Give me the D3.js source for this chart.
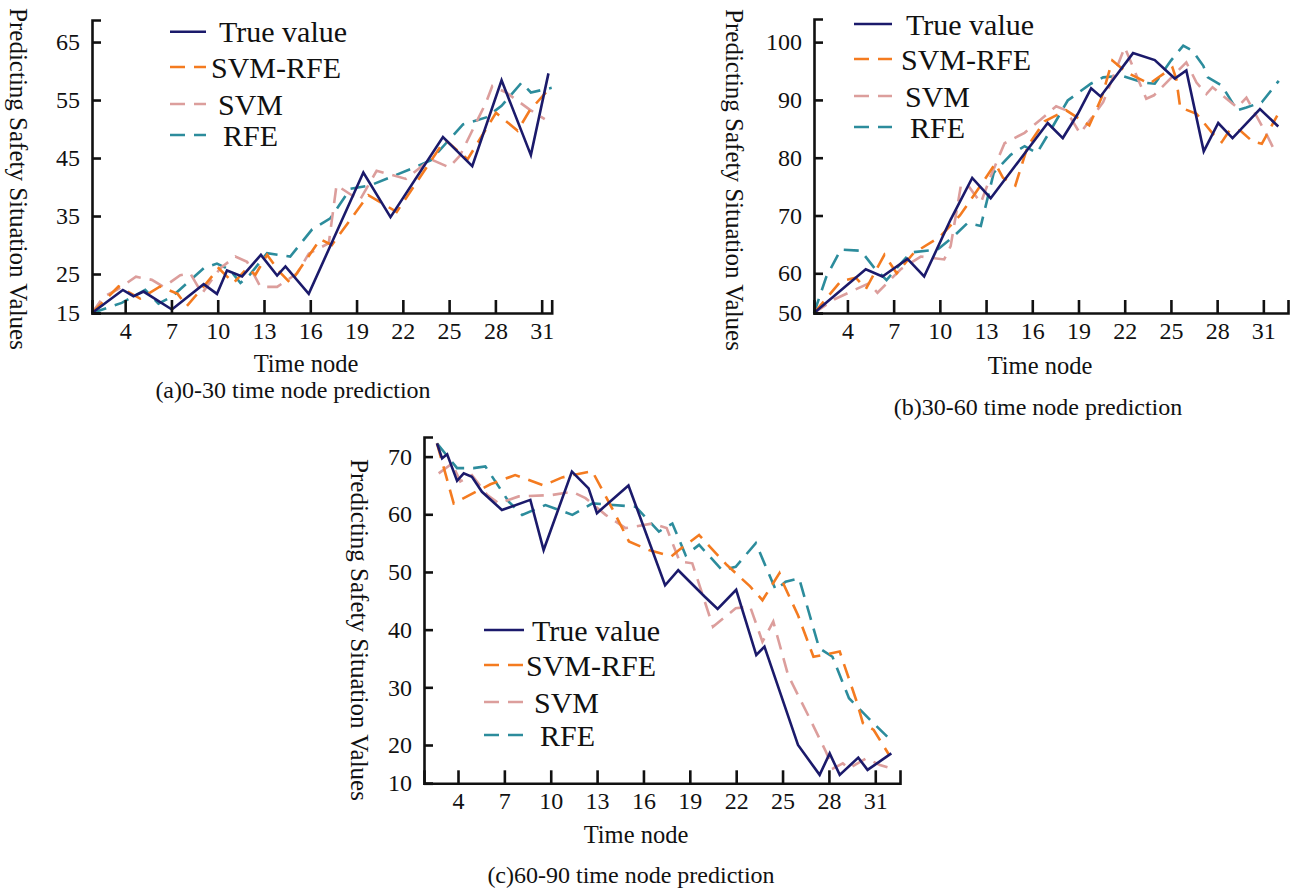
<!DOCTYPE html>
<html>
<head>
<meta charset="utf-8">
<script src="https://d3js.org/d3.v7.min.js"></script>
<style>
  body { margin: 0; background: #fff; }
  svg text { font-family: "Liberation Serif", "Times New Roman", serif; fill: #111; }
</style>
</head>
<body>
<div id="chart"></div>
<script>
// series names and styles
const seriesNames = ["True value", "SVM-RFE", "SVM", "RFE"];
const seriesColors = ["#1b1a6b", "#f47b20", "#dc9e9c", "#2c8c9c"];
const seriesDash = [null, "15,9", "15,9", "15,9"];

const xTicks = [4, 7, 10, 13, 16, 19, 22, 25, 28, 31];

// (a) 0-30 time node prediction : [time node, value]
const trueA = [[1.85,15],[3.85,20.9],[4.54,19.3],[5.19,20.5],[7.03,15.9],[9.09,22.4],[9.95,19.9],[10.6,25.6],[11.58,24.4],[12.8,28.3],[13.85,24.6],[14.39,26.3],[15.9,19.9],[19.44,42.5],[21.2,34.8],[24.6,48.6],[26.5,43.6],[28.4,58.4],[30.3,45.5],[31.44,59.6]];
const svmRfeA = [[1.85,15],[3.57,21.8],[4.97,18.7],[6.27,21.8],[7.4,19.9],[8.0,16.8],[9.09,21.8],[10.06,26],[11.03,22.7],[11.9,26],[12.44,24.8],[13.2,28.3],[13.96,25.5],[14.7,22.7],[15.15,25.2],[16.65,31],[17.4,30],[19.76,38.6],[21.6,35.7],[24.4,46.8],[24.8,48],[26.2,44.8],[28.04,52.8],[29.44,49.7],[30.2,53.1],[31.6,57.3]];
const svmA = [[1.85,15],[2.6,19.2],[3.46,20.9],[4.7,24.3],[5.73,23.5],[6.5,21.7],[7.57,24.7],[8.22,25.1],[8.98,20],[9.52,23],[10.17,26],[11.14,28],[11.9,27.1],[12.77,21.7],[13.85,21.7],[15.15,25.1],[15.9,28.5],[17.2,30.3],[17.7,40.3],[19.2,37.7],[20.3,42.8],[22.2,41.4],[23.8,44.8],[25,43.4],[25.7,45.4],[27.4,54.6],[27.8,57.4],[28.7,56.3],[30.2,53.4],[31.2,51.7]];
const rfeA = [[1.85,15],[3.78,17.6],[5.3,20.9],[6.16,17.4],[7.03,19.2],[9.09,26],[9.95,26.8],[10.8,25.7],[11.47,22.7],[12.1,24.9],[13.2,28.6],[14.7,28],[16.12,32.7],[17.3,34.6],[18.6,39.7],[19.9,40.3],[22.5,43.1],[23.8,44.6],[25.9,50.8],[27.4,52],[28.4,54],[29.7,58],[30.3,56.3],[31.65,57.1]];

// (b) 30-60 time node prediction
const trueB = [[1.83,50],[5.19,60.7],[6.27,59.2],[7.9,62.5],[8.98,59.2],[10.7,69.3],[12.1,76.5],[13.3,73],[17.0,86],[17.98,83.4],[18.96,87.6],[19.82,92],[20.43,90.6],[22.54,98.1],[23.95,96.9],[25.25,93.7],[26.0,95.1],[27.13,81.1],[28.07,86],[29.0,83.4],[30.78,88.4],[31.97,85.4]];
const svmRfeB = [[1.83,50],[3.57,58],[4.54,58.9],[5.2,56.1],[6.4,63.2],[7.2,60],[8.3,63.5],[10,66.3],[11.3,70],[12.6,75],[13.6,79],[14.1,76.5],[14.9,75.2],[15.7,82],[16.8,86.3],[18.2,88.2],[19.7,85.6],[20.5,90.4],[21.2,96.8],[22.1,94.8],[23.6,92.8],[25.1,95.6],[25.35,93.6],[25.6,88.7],[26.66,87.6],[27.74,84.1],[28.3,82.7],[28.8,84.7],[29.5,84.7],[30.3,82.8],[30.9,82.4],[31.9,87.3]];
const svmB = [[1.83,50],[3.13,53.4],[5.4,57.5],[5.95,55.1],[7.46,60.7],[8.76,62.9],[10.28,62.4],[10.7,64.7],[11.36,75.1],[11.8,75.3],[12.66,72.2],[13.3,76.8],[14.2,82.5],[15.5,84.3],[16.55,86.6],[17.55,88.9],[18.2,88.2],[19.1,84.2],[20.6,89.6],[22.0,99.1],[23.4,90.2],[23.9,90.8],[26.0,96.5],[26.66,93],[27.3,91],[27.7,92.2],[29.3,88.7],[29.9,90.4],[31.2,84.1],[31.75,81.1]];
const rfeB = [[1.83,50],[2.63,59.1],[3.57,64.1],[4.87,63.9],[5.73,61],[6.54,58.3],[7.3,61.2],[8.1,63.6],[9.84,64.1],[10.9,66.4],[11.8,68.7],[12.66,68.2],[13.5,77.4],[14.6,80.5],[15.5,82],[16.3,80.8],[17.2,84.8],[18.3,89.9],[19.8,92.8],[20.6,93.9],[21.8,94.2],[23.2,93],[23.95,92.8],[25.0,96.8],[25.8,99.4],[26.4,98.5],[27.1,95.9],[27.4,93.9],[28.3,92.5],[29.3,88.2],[29.9,88.7],[30.9,89.6],[32.0,93.3]];

// (c) 60-90 time node prediction
const trueC = [[2.64,72.3],[2.97,69.7],[3.3,70.4],[3.94,65.8],[4.37,67.1],[4.9,66.5],[5.55,63.9],[6.84,60.75],[8.68,62.5],[9.54,53.8],[11.37,67.4],[12.45,64.5],[12.99,60.2],[15.03,65],[17.4,47.7],[18.25,50.3],[19.97,45.7],[20.8,43.6],[22.0,46.9],[23.3,35.6],[23.83,37.05],[26.0,20],[27.4,12.2],[28.05,17.8],[28.7,12.2],[29.9,16.7],[30.5,13.5],[32.04,17.8]];
const svmRfeC = [[2.64,72.3],[3.72,61.9],[6.1,65.2],[7.7,66.8],[9.55,65],[10.74,66.4],[12.68,67.5],[13.98,61],[15.06,55.3],[16.35,53.8],[17.8,52.7],[18.3,53.8],[19.6,56.4],[21.4,51.2],[22.9,47.5],[23.7,45.1],[24.8,49.8],[25.1,47.7],[26.0,42.5],[27.0,35.3],[28.7,36.2],[29.8,27.5],[30.2,23.8],[30.9,22.6],[31.9,17.4]];
const svmC = [[2.75,67.1],[3.61,68.8],[4.15,65.7],[4.9,66.8],[5.88,63.4],[6.64,61.9],[7.93,63.1],[10.1,63.35],[11.4,63.9],[12.25,62.8],[13.55,59.9],[14.84,57.6],[16.57,58.4],[17.5,57.6],[18.35,51.8],[19.16,51.5],[20.5,40.5],[21.97,43.7],[22.9,44],[23.7,37.9],[24.4,41.4],[25.36,32.1],[26.76,24.6],[27.8,18.3],[28.27,13.9],[28.9,15.2],[29.3,13.9],[30.4,16.5],[31.3,14.8],[32.0,13.9]];
const rfeC = [[2.64,72.3],[3.94,68],[5.0,68],[5.77,68.3],[7.28,62.2],[8.15,59.9],[9.66,61.6],[11.4,59.9],[12.7,61.9],[15.5,61.3],[17.0,57],[17.87,58.4],[18.73,52.9],[19.6,54.7],[21.1,50.3],[21.97,50.9],[23.27,55],[24.56,46.9],[25.2,48.3],[26.07,48.9],[27.37,36.8],[28.23,35.3],[29.3,28.1],[30.8,24],[32.1,20.6]];

const yTicksA = [15, 25, 35, 45, 55, 65];
const yTicksB = [50, 60, 70, 80, 90, 100];
const yTicksC = [10, 20, 30, 40, 50, 60, 70];

const panels = [
  {
    series: [trueA, svmRfeA, svmA, rfeA], yTicks: yTicksA,
    xDomain: [1.85, 31.65], xRange: [92, 551.7],
    yDomain: [15, 25, 68.8], yRange: [313, 274, 20],
    yTitle: [19, 179], xTitle: [306, 363],
    caption: "(a)0-30 time node prediction", capPos: [293, 390],
    legX: [170, 206], legY: [31.7, 67, 104, 135], legText: [219, 211, 218, 223]
  },
  {
    series: [trueB, svmRfeB, svmB, rfeB], yTicks: yTicksB,
    xDomain: [1.83, 32.6], xRange: [814, 1288],
    yDomain: [50, 60, 104], yRange: [313, 273.3, 19],
    yTitle: [735, 180], xTitle: [1040, 365],
    caption: "(b)30-60 time node prediction", capPos: [1038, 407],
    legX: [854, 892], legY: [24, 59, 96, 127], legText: [906, 901, 905, 910]
  },
  {
    series: [trueC, svmRfeC, svmC, rfeC], yTicks: yTicksC,
    xDomain: [1.8, 32.6], xRange: [424, 900],
    yDomain: [10, 20, 73.4], yRange: [783.3, 745, 437],
    yTitle: [360, 630], xTitle: [636, 834],
    caption: "(c)60-90 time node prediction", capPos: [631, 875],
    legX: [484, 524], legY: [630, 665, 702, 735], legText: [532, 526, 534, 540]
  }
];

const svg = d3.select("#chart").append("svg")
  .attr("width", 1295)
  .attr("height", 892);

panels.forEach(p => {
  const x = d3.scaleLinear().domain(p.xDomain).range(p.xRange);
  // the lowest label sits at the axis corner, closer than the regular step
  const y = d3.scaleLinear().domain(p.yDomain).range(p.yRange);
  const x0 = p.xRange[0], yb = p.yRange[0];
  const g = svg.append("g");

  // lines, drawn back to front
  const line = d3.line().x(d => x(d[0])).y(d => y(d[1]));
  [3, 2, 1, 0].forEach(i => {
    g.append("path")
      .datum(p.series[i])
      .attr("fill", "none")
      .attr("stroke", seriesColors[i])
      .attr("stroke-width", 2.6)
      .attr("stroke-dasharray", seriesDash[i])
      .attr("d", line);
  });

  // axes with inward ticks
  const xAxis = g.append("g")
    .attr("transform", `translate(0,${yb})`)
    .call(d3.axisBottom(x).tickValues(xTicks).tickSizeInner(-13).tickSizeOuter(-13).tickPadding(9));
  const yAxis = g.append("g")
    .attr("transform", `translate(${x0},0)`)
    .call(d3.axisLeft(y).tickValues(p.yTicks).tickSizeInner(-9).tickSizeOuter(-9).tickPadding(12));
  [xAxis, yAxis].forEach(a => {
    a.selectAll("path, line").attr("stroke", "#111").attr("stroke-width", 2.6);
    a.selectAll("text").attr("font-size", 24).attr("fill", "#111")
      .style("font-family", "'Liberation Serif', 'Times New Roman', serif");
  });

  // axis titles and caption
  g.append("text")
    .attr("transform", `translate(${p.yTitle[0]},${p.yTitle[1]}) rotate(90)`)
    .attr("text-anchor", "middle").attr("dy", "0.35em")
    .attr("font-size", 25)
    .text("Predicting Safety Situation Values");
  g.append("text")
    .attr("x", p.xTitle[0]).attr("y", p.xTitle[1])
    .attr("text-anchor", "middle").attr("dy", "0.35em")
    .attr("font-size", 24.5)
    .text("Time node");
  g.append("text")
    .attr("x", p.capPos[0]).attr("y", p.capPos[1])
    .attr("text-anchor", "middle").attr("dy", "0.35em")
    .attr("font-size", 24)
    .text(p.caption);

  // legend
  seriesNames.forEach((name, i) => {
    g.append("line")
      .attr("x1", p.legX[0]).attr("x2", p.legX[1])
      .attr("y1", p.legY[i]).attr("y2", p.legY[i])
      .attr("stroke", seriesColors[i])
      .attr("stroke-width", 2.6)
      .attr("stroke-dasharray", seriesDash[i]);
    g.append("text")
      .attr("x", p.legText[i]).attr("y", p.legY[i])
      .attr("dy", "0.35em")
      .attr("font-size", 30)
      .text(name);
  });
});
</script>
</body>
</html>
